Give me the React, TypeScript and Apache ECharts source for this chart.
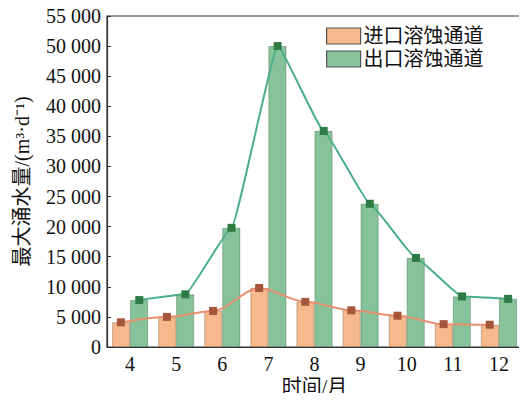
import React, { useEffect, useRef } from "react";
import * as echarts from "echarts";

const months = [4, 5, 6, 7, 8, 9, 10, 11, 12];
const inletValues = [4100, 5000, 6000, 9800, 7500, 6100, 5200, 3800, 3700];
const outletValues = [7800, 8750, 19800, 50000, 35900, 23800, 14800, 8400, 8000];
const seriesNames = ["进口溶蚀通道", "出口溶蚀通道"];
const yTicks = [0, 5000, 10000, 15000, 20000, 25000, 30000, 35000, 40000, 45000, 50000, 55000];

const FONT = "'Liberation Serif', 'Times New Roman', 'Noto Sans CJK SC', serif";
const halfBar = 0.2; // half of a bar width in month units

function fmt(v: number) {
  if (v === 0) return "0";
  const s = String(v);
  return s.slice(0, s.length - 3) + " " + s.slice(s.length - 3);
}

export default function App() {
  const ref = useRef<HTMLDivElement>(null);
  useEffect(() => {
    if (!ref.current) return;
    const chart = echarts.init(ref.current, undefined, { renderer: "svg" });
    chart.setOption({
      animation: false,
      backgroundColor: "#fff",
      textStyle: { fontFamily: FONT },
      grid: {
        left: 107,
        right: 5,
        top: 16,
        bottom: 54,
        show: true,
        borderColor: "#333",
        borderWidth: 1.2,
        outerBoundsMode: "none",
        containLabel: false,
      },
      legend: {
        data: seriesNames,
        orient: "vertical",
        top: 21,
        left: 321,
        itemWidth: 34,
        itemHeight: 16,
        itemGap: 3,
        icon: "rect",
        textStyle: { fontFamily: FONT, fontSize: 20, color: "#111", padding: [0, 0, 0, -2] },
        itemStyle: { borderColor: "#555", borderWidth: 1.2 },
      },
      xAxis: {
        type: "value",
        min: 3.5,
        max: 12.5,
        name: "时间/月",
        nameLocation: "middle",
        nameGap: 30,
        nameMoveOverlap: false,
        nameTextStyle: { fontFamily: FONT, fontSize: 20, color: "#111" },
        axisLine: { show: true, lineStyle: { color: "#333", width: 1.2 } },
        axisTick: { show: false },
        splitLine: { show: false },
        axisLabel: {
          customValues: months,
          fontFamily: FONT,
          fontSize: 20,
          color: "#111",
          margin: 7,
        },
      },
      yAxis: {
        type: "value",
        min: 0,
        max: 55000,
        interval: 5000,
        name: "最大涌水量/(m³·d⁻¹)",
        nameLocation: "middle",
        nameRotate: 90,
        nameGap: 75,
        nameMoveOverlap: false,
        nameTextStyle: { fontFamily: FONT, fontSize: 20, color: "#111" },
        axisLine: { show: true, lineStyle: { color: "#333", width: 1.2 } },
        axisTick: { show: true, inside: true, length: 4, lineStyle: { color: "#333" } },
        splitLine: { show: false },
        axisLabel: {
          fontFamily: FONT,
          fontSize: 20,
          color: "#111",
          margin: 6,
          formatter: (v: number) => (yTicks.includes(v) ? fmt(v) : ""),
        },
      },
      series: [
        {
          name: seriesNames[0],
          type: "bar",
          barWidth: 18,
          barGap: "0%",
          data: months.map((m, i) => [m, inletValues[i]]),
          itemStyle: { color: "#f5b98c", borderColor: "rgba(60,40,20,0.35)", borderWidth: 0.8 },
          z: 2,
        },
        {
          name: seriesNames[1],
          type: "bar",
          barWidth: 18,
          barGap: "0%",
          data: months.map((m, i) => [m, outletValues[i]]),
          itemStyle: { color: "#86c39b", borderColor: "rgba(20,50,20,0.35)", borderWidth: 0.8 },
          z: 2,
        },
        {
          name: "进口趋势",
          type: "line",
          smooth: 0.3,
          smoothMonotone: "x",
          symbol: "rect",
          symbolSize: 8,
          data: months.map((m, i) => [m - halfBar, inletValues[i]]),
          lineStyle: { color: "#e98e6e", width: 2 },
          itemStyle: { color: "#a5553a" },
          z: 5,
        },
        {
          name: "出口趋势",
          type: "line",
          smooth: 0.1,
          smoothMonotone: "x",
          symbol: "rect",
          symbolSize: 8,
          data: months.map((m, i) => [m + halfBar, outletValues[i]]),
          lineStyle: { color: "#4aae88", width: 2 },
          itemStyle: { color: "#2f7b45" },
          z: 5,
        },
      ],
    });
    return () => chart.dispose();
  }, []);
  return <div ref={ref} style={{ width: 527, height: 401, margin: -8 }} />;
}
